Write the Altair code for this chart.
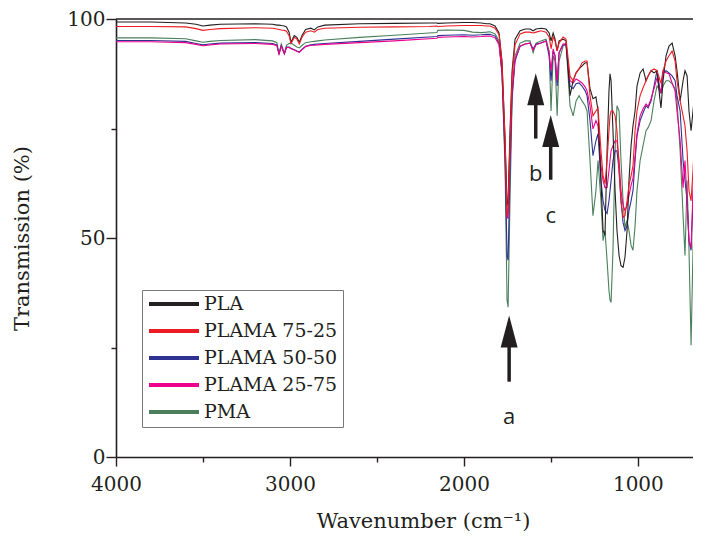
import altair as alt
import pandas as pd

# ---------------- data ----------------
series_names = ["PLA", "PLAMA 75-25", "PLAMA 50-50", "PLAMA 25-75", "PMA"]
series_colors = ["#231f20", "#ed1c24", "#2e3192", "#ec008c", "#4b7f5c"]
draw_order = ["PMA", "PLAMA 50-50", "PLAMA 25-75", "PLA", "PLAMA 75-25"]

wn_high = [4000, 3800, 3600, 3540, 3500, 3460, 3400, 3200, 3100, 3075, 3063, 3050,
           3032, 3020, 3005, 2994, 2975, 2960, 2946, 2930, 2910, 2880, 2860, 2840,
           2800, 2600, 2400, 2200, 2155, 2150, 2100, 2000, 1950, 1900, 1870]
wn_low = [1850, 1821, 1798, 1781, 1763, 1752, 1746, 1735, 1723, 1706, 1677, 1648,
          1620, 1602, 1585, 1557, 1528, 1510, 1499, 1487, 1476, 1464, 1453, 1430,
          1413, 1390, 1372, 1355, 1338, 1321, 1303, 1292, 1275, 1258, 1241, 1229,
          1212, 1200, 1189, 1177, 1166, 1160, 1154, 1143, 1131, 1120, 1108, 1097,
          1085, 1074, 1062, 1051, 1039, 1028, 1016, 1005, 987, 970, 953, 941, 924,
          907, 890, 872, 867, 855, 838, 821, 803, 786, 775, 757, 740, 729, 717, 706,
          694, 683, 671, 654, 637]
wavenumbers = wn_high + wn_low

pla = [99.3, 99.3, 99.1, 98.8, 98.4, 98.6, 98.8, 98.9, 98.8, 98.6, 98.6, 98.5,
       98.4, 98.2, 97.0, 94.7, 96.2, 95.8, 94.7, 96.3, 97.6, 97.9, 97.5, 98.2,
       98.6, 98.9, 99.0, 99.1, 99.1, 99.0, 99.1, 99.2, 99.2, 99.1, 98.9,
       98.9, 98.4, 96.8, 90.4, 72.2, 57.4, 58.5, 74.5, 88.2, 95.4, 97.3, 97.7,
       97.7, 97.3, 97.7, 97.9, 97.7, 96.8, 95.0, 96.8, 95.4, 92.7, 95.0, 95.4,
       95.0, 82.5, 85.9, 87.7, 88.6, 89.3, 90.0, 90.0, 84.1, 81.8, 82.2, 79.0,
       63.1, 51.7, 50.6, 69.9, 83.6, 87.5, 85.9, 74.5, 60.8, 51.7, 46.0, 43.7,
       43.3, 45.6, 51.7, 63.1, 71.1, 75.6, 79.0, 84.7, 87.7, 88.6, 85.9, 87.0,
       88.2, 87.7, 88.2, 81.3, 79.7, 85.9, 91.6, 93.8, 94.5, 91.6, 88.2, 81.3,
       85.9, 88.2, 87.0, 79.0, 74.5, 79.0, 83.6, 85.9, 88.2]

plama_75_25 = [98.3, 98.3, 98.2, 97.8, 97.4, 97.6, 97.8, 98.0, 97.9, 97.7, 97.6, 97.5,
               97.4, 97.2, 96.2, 94.4, 95.8, 95.4, 94.3, 95.9, 97.0, 97.3, 97.0, 97.6,
               97.9, 98.1, 98.2, 98.3, 98.4, 98.3, 98.4, 98.5, 98.5, 98.5, 98.4,
               98.4, 97.9, 96.4, 90.0, 72.2, 55.1, 56.3, 72.2, 87.0, 94.1, 96.6, 97.0,
               97.0, 96.8, 97.0, 97.3, 97.0, 95.9, 93.2, 95.9, 95.0, 92.7, 94.5, 95.9,
               95.4, 87.0, 85.9, 87.7, 88.6, 90.0, 90.4, 90.4, 82.5, 77.9, 79.0, 79.7,
               69.9, 64.2, 62.4, 67.7, 74.5, 77.9, 79.0, 79.0, 77.9, 74.5, 65.4, 58.5,
               54.7, 55.1, 58.5, 62.0, 64.2, 66.5, 74.5, 79.0, 82.5, 84.3, 85.9, 87.0,
               88.2, 88.6, 88.2, 85.9, 85.4, 88.2, 90.4, 91.6, 92.7, 90.4, 85.9, 81.3,
               77.9, 75.6, 69.9, 60.8, 58.5, 65.4, 74.5, 80.2, 83.6]

plama_50_50 = [95.1, 95.1, 94.9, 94.4, 94.1, 94.3, 94.5, 94.6, 94.4, 94.1, 91.9, 93.9,
               92.0, 93.6, 93.6, 93.3, 93.0, 92.7, 92.5, 93.1, 93.8, 94.1, 94.2, 94.3,
               94.4, 94.9, 95.4, 95.9, 96.0, 96.2, 96.3, 96.4, 96.3, 96.4, 96.5,
               96.5, 96.1, 94.5, 87.7, 67.7, 46.0, 44.9, 65.4, 82.5, 90.4, 93.8, 94.3,
               94.5, 93.2, 94.3, 94.5, 95.0, 91.6, 85.9, 92.7, 91.6, 84.7, 92.3, 94.1,
               94.1, 84.7, 84.1, 85.2, 85.4, 84.7, 83.6, 82.5, 76.8, 68.8, 72.2, 73.8,
               63.1, 58.5, 56.3, 55.6, 58.5, 60.8, 63.1, 67.7, 69.9, 69.9, 65.4, 58.5,
               53.5, 51.7, 52.8, 56.3, 58.5, 60.8, 67.7, 73.3, 76.8, 78.6, 80.2, 79.7,
               81.3, 84.7, 88.2, 83.6, 83.1, 87.7, 88.2, 87.7, 87.0, 85.9, 82.5, 79.0,
               67.7, 63.1, 58.5, 49.4, 47.2, 58.5, 74.5, 79.0, 82.5]

plama_25_75 = [94.8, 94.8, 94.6, 94.2, 93.9, 94.1, 94.3, 94.4, 94.2, 93.9, 92.0, 93.8,
               92.1, 93.5, 93.5, 93.2, 92.9, 92.6, 92.4, 93.0, 93.7, 94.0, 94.0, 94.1,
               94.2, 94.6, 95.0, 95.5, 95.6, 95.8, 95.9, 96.0, 95.9, 96.0, 96.1,
               96.1, 95.7, 94.1, 87.7, 69.9, 55.1, 54.4, 69.9, 83.6, 90.9, 93.8, 94.3,
               94.5, 92.9, 94.1, 94.5, 95.0, 92.3, 88.2, 93.2, 91.6, 85.9, 92.3, 94.3,
               94.3, 85.9, 85.4, 86.3, 85.9, 85.4, 84.5, 83.6, 80.2, 74.9, 76.8, 75.6,
               66.5, 63.1, 61.5, 61.5, 65.4, 67.7, 69.9, 71.1, 72.2, 72.2, 67.7, 60.8,
               57.4, 56.3, 57.4, 59.7, 62.0, 63.6, 68.8, 73.8, 77.9, 79.5, 80.6, 80.0,
               81.8, 84.1, 86.6, 83.6, 83.1, 88.2, 87.7, 87.5, 85.4, 83.6, 79.0, 72.2,
               61.5, 67.7, 58.5, 49.4, 47.8, 60.8, 73.3, 79.0, 81.3]

pma = [95.7, 95.7, 95.5, 95.0, 94.7, 94.9, 95.1, 95.3, 95.0, 94.6, 92.0, 94.3,
       92.2, 94.0, 94.4, 94.5, 94.0, 93.6, 93.4, 94.0, 94.6, 94.8, 94.9, 95.0,
       95.2, 95.8, 96.3, 96.8, 96.9, 97.4, 97.5, 97.4, 97.0, 96.9, 97.0,
       97.1, 96.6, 95.0, 88.2, 65.4, 35.8, 34.2, 58.5, 81.3, 91.6, 94.5, 95.0,
       95.0, 92.3, 94.5, 95.0, 95.4, 92.7, 79.0, 91.6, 90.4, 77.9, 90.4, 93.8,
       94.5, 80.2, 77.9, 81.3, 82.5, 81.3, 80.2, 79.0, 67.7, 55.1, 60.8, 67.7,
       58.5, 49.4, 51.7, 44.9, 38.0, 35.8, 35.3, 47.2, 69.9, 80.2, 79.0, 67.7,
       58.5, 52.4, 54.0, 51.7, 48.3, 47.2, 52.8, 60.8, 67.7, 71.1, 74.5, 75.2,
       76.8, 81.3, 84.7, 83.6, 83.1, 84.7, 85.9, 85.9, 85.2, 84.1, 81.3, 69.9,
       55.1, 46.0, 63.1, 47.2, 25.5, 47.2, 64.2, 69.9, 75.2]

series_values = {"PLA": pla, "PLAMA 75-25": plama_75_25, "PLAMA 50-50": plama_50_50,
                 "PLAMA 25-75": plama_25_75, "PMA": pma}

# annotation arrows (a, b, c)
arrow_labels = ["a", "b", "c"]
arrow_wn = [1740, 1587, 1501]
arrow_tip = [32.3, 87.6, 78.1]
arrow_tail = [17.2, 72.7, 63.3]
arrow_text_y = [9.1, 64.7, 55.1]

x_ticks = [4000, 3500, 3000, 2500, 2000, 1500, 1000]
y_ticks = [0, 25, 50, 75, 100]

# ---------------- tables ----------------
rows = []
for name in draw_order:
    for w, t in zip(wavenumbers, series_values[name]):
        rows.append({"series": name, "wavenumber": w, "transmission": t})
df = pd.DataFrame(rows)

arrows = pd.DataFrame({
    "label": arrow_labels,
    "wavenumber": arrow_wn,
    "transmission": arrow_tip,
    "tail": arrow_tail,
    "shaft_top": [t - 6 for t in arrow_tip],
    "text_y": arrow_text_y,
})
frame = pd.DataFrame({"transmission": [100]})

FONT = "DejaVu Serif"
INK = "#231f20"

x_scale = alt.Scale(domain=[4000, 683], nice=False, zero=False)
y_scale = alt.Scale(domain=[0, 100], nice=False, zero=False)

x_axis = alt.Axis(
    values=x_ticks, format="d",
    labelExpr="datum.value % 1000 === 0 ? datum.label : ''",
    tickSize={"condition": {"test": "datum.value % 1000 === 0", "value": 9}, "value": 5},
    labelPadding=8, labelFlush=False, labelOverlap=False,
    titleX=307, titleY=70, titleAlign="center", titleBaseline="alphabetic",
)
y_axis = alt.Axis(
    values=y_ticks, format="d",
    labelExpr="datum.value % 50 === 0 ? datum.label : ''",
    tickSize={"condition": {"test": "datum.value % 50 === 0", "value": 10}, "value": 5},
    labelPadding=1, labelFlush=False, labelOverlap=False,
    titleX=-94, titleY=219, titleAngle=270, titleAlign="center", titleBaseline="middle",
)

legend = alt.Legend(
    title=None, orient="none", legendX=26, legendY=271, direction="vertical",
    symbolType="stroke", symbolSize=2500, symbolStrokeWidth=4, clipHeight=18,
    rowPadding=8, labelFont=FONT, labelFontSize=19, labelColor=INK, labelOffset=3,
    labelLimit=0, strokeColor="#77787b", fillColor="white", padding=5,
)

lines = alt.Chart(df).mark_line(strokeWidth=1.1, clip=True).encode(
    x=alt.X("wavenumber:Q", scale=x_scale, axis=x_axis, title="Wavenumber (cm\u207b\u00b9)"),
    y=alt.Y("transmission:Q", scale=y_scale, axis=y_axis, title="Transmission (%)"),
    color=alt.Color("series:N", scale=alt.Scale(domain=series_names, range=series_colors),
                    legend=legend),
    detail="series:N",
)

top_rule = alt.Chart(frame).mark_rule(color=INK, strokeWidth=1.6).encode(
    y=alt.Y("transmission:Q", scale=y_scale)
)

shafts = alt.Chart(arrows).mark_rule(color=INK, strokeWidth=3.5).encode(
    x=alt.X("wavenumber:Q", scale=x_scale),
    y=alt.Y("tail:Q", scale=y_scale),
    y2="shaft_top:Q",
)

heads = alt.Chart(arrows).mark_point(
    shape="M0,0L0.53,2L-0.53,2Z", size=1024, filled=True, opacity=1,
    color=INK, strokeWidth=0,
).encode(
    x=alt.X("wavenumber:Q", scale=x_scale),
    y=alt.Y("transmission:Q", scale=y_scale),
)

texts = alt.Chart(arrows).mark_text(
    font="Open Sans", fontSize=22, color=INK, baseline="middle", align="center"
).encode(
    x=alt.X("wavenumber:Q", scale=x_scale),
    y=alt.Y("text_y:Q", scale=y_scale),
    text="label:N",
)

chart = alt.layer(lines, top_rule, shafts, heads, texts).properties(
    width=577, height=438,
    padding={"left": 108, "top": 11, "right": 0, "bottom": 78},
    autosize=alt.AutoSizeParams(type="none"),
).configure_view(stroke=None).configure_axis(
    grid=False, domainColor=INK, domainWidth=1.6, tickColor=INK, tickWidth=1.4,
    labelFont=FONT, labelFontSize=20, labelColor=INK,
    titleFont=FONT, titleFontSize=21, titleFontWeight="normal", titleColor=INK,
)

chart.save("out.html", embed_options={"renderer": "svg", "actions": False})
